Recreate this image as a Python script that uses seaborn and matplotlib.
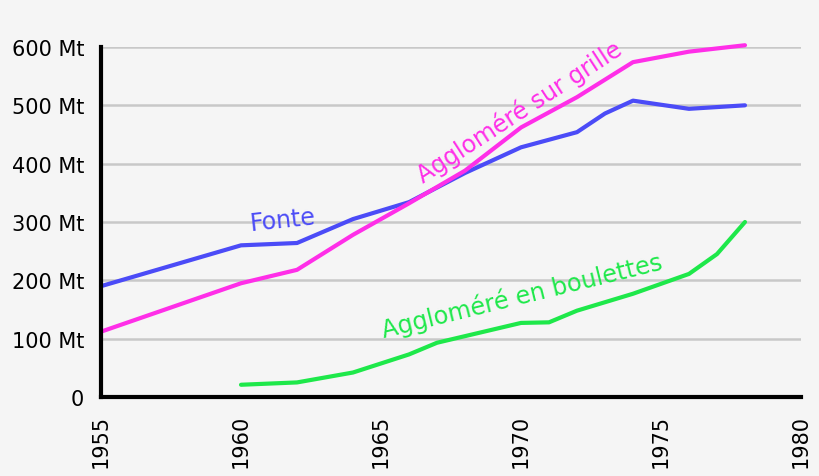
import pandas as pd
import seaborn as sns
import matplotlib.pyplot as plt
from matplotlib.ticker import FuncFormatter

# Production mondiale (Mt)
annees_fonte = [1955, 1960, 1962, 1964, 1966, 1968, 1970, 1972, 1973, 1974, 1976, 1978]
fonte = [190, 260, 264, 305, 334, 384, 428, 454, 486, 508, 494, 500]

annees_grille = [1955, 1960, 1962, 1964, 1966, 1968, 1970, 1972, 1974, 1976, 1978]
grille = [112, 195, 218, 278, 332, 388, 462, 514, 574, 592, 603]

annees_boulettes = [1960, 1962, 1964, 1966, 1967, 1970, 1971, 1972, 1974, 1976, 1977, 1978]
boulettes = [21, 25, 42, 73, 93, 127, 128, 148, 177, 211, 245, 300]

series = ['Fonte', 'Aggloméré sur grille', 'Aggloméré en boulettes']
couleurs = {'Fonte': '#4b4bf7', 'Aggloméré sur grille': '#ff2ee8',
            'Aggloméré en boulettes': '#1ee84a'}

df = pd.concat([
    pd.DataFrame({'annee': annees_fonte, 'Mt': fonte, 'serie': series[0]}),
    pd.DataFrame({'annee': annees_grille, 'Mt': grille, 'serie': series[1]}),
    pd.DataFrame({'annee': annees_boulettes, 'Mt': boulettes, 'serie': series[2]}),
])

sns.set_style('white')
plt.rcParams['font.family'] = ['DejaVu Sans']
bg = '#f5f5f5'

fig = plt.figure(figsize=(8.2, 4.77), dpi=100, facecolor=bg)
ax = fig.add_axes([0.1232, 0.1656, 0.8536, 0.7338])
ax.set_facecolor(bg)

for y in range(100, 700, 100):
    ax.axhline(y, color='#c8c8c8', lw=1.8, zorder=0)

sns.lineplot(data=df, x='annee', y='Mt', hue='serie', palette=couleurs,
             linewidth=3, legend=False, ax=ax, clip_on=False, zorder=3)

ax.set_xlim(1955, 1980)
ax.set_ylim(0, 600)
ax.set_xticks(range(1955, 1981, 5))
ax.set_yticks(range(0, 601, 100))
ax.yaxis.set_major_formatter(FuncFormatter(lambda v, p: '0' if v == 0 else f'{int(v)} Mt'))
ax.tick_params(axis='x', labelrotation=90, length=9, width=3, labelsize=15, pad=3,
               color='black', labelcolor='black')
ax.tick_params(axis='y', length=9, width=3, labelsize=15, pad=3,
               color='black', labelcolor='black')
ax.set_xlabel('')
ax.set_ylabel('')

for s in ['top', 'right']:
    ax.spines[s].set_visible(False)
for s in ['left', 'bottom']:
    ax.spines[s].set_linewidth(3)
    ax.spines[s].set_color('black')
    ax.spines[s].set_zorder(5)

ax.text(1961.5, 304, 'Fonte', color=couleurs['Fonte'], fontsize=17,
        rotation=6, ha='center', va='center')
ax.text(1969.95, 490, 'Aggloméré sur grille', color=couleurs['Aggloméré sur grille'],
        fontsize=17, rotation=33, ha='center', va='center')
ax.text(1970.05, 174, 'Aggloméré en boulettes', color=couleurs['Aggloméré en boulettes'],
        fontsize=17.3, rotation=13.8, ha='center', va='center')

fig.savefig('out.png', dpi=100, facecolor=bg)
